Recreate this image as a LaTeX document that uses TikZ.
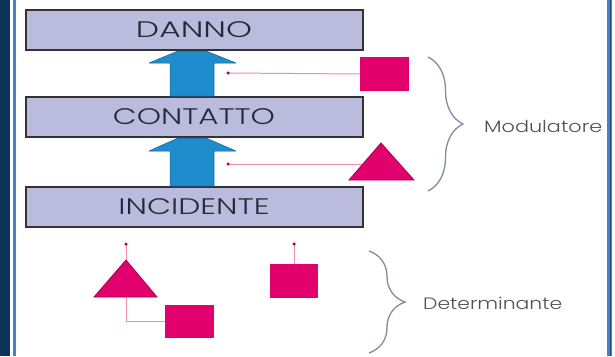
\documentclass[tikz,border=0pt]{standalone}
\usepackage{fontspec}
\usepackage{graphicx}
\setmainfont{Poppins Light}
\usetikzlibrary{decorations.pathreplacing}
\definecolor{navy}{RGB}{10,52,88}
\definecolor{frameblue}{RGB}{70,130,195}
\definecolor{boxfill}{RGB}{186,187,221}
\definecolor{boxtext}{RGB}{40,40,60}
\definecolor{arrowblue}{RGB}{30,140,205}
\definecolor{magentaf}{RGB}{226,0,108}
\definecolor{pinkline}{RGB}{240,140,172}
\definecolor{bracecol}{RGB}{130,138,165}
\definecolor{labeltext}{RGB}{80,80,85}
\newcommand{\wto}[2]{\resizebox{#1}{\height}{#2}}
\tikzset{
  layerbox/.style={draw=black!80, line width=2pt, fill=boxfill, minimum width=337pt, minimum height=40pt, inner sep=0pt, text=boxtext, font=\fontsize{22.5}{24}\selectfont},
  pinksq/.style={fill=magentaf, minimum width=49pt, minimum height=34pt, inner sep=0pt},
  pinkconn/.style={draw=pinkline, line width=1pt},
  pinkdot/.style={fill=magentaf!80!black, circle, inner sep=0pt, minimum size=3.5pt},
  blockarrow/.style={fill=arrowblue, draw=arrowblue!70!black, line width=0.5pt, line join=round},
  tri/.style={fill=magentaf, draw=magentaf!75!black, line width=0.8pt, line join=miter},
  bracestyle/.style={draw=bracecol, line width=1.3pt, decorate, decoration={brace, amplitude=35pt}},
  sidelabel/.style={anchor=west, inner sep=0pt, text=labeltext, font=\fontsize{16.5}{18}\selectfont}
}
\begin{document}
\begin{tikzpicture}[x=1pt, y=-1pt]
\useasboundingbox (0,0) rectangle (615,356);
\fill[white] (0,0) rectangle (615,356);
% frame
\fill[navy] (0,0) rectangle (9.5,356);
\fill[frameblue] (13,0) rectangle (16,356);
\fill[frameblue] (607,0) rectangle (612,356);
\fill[navy!70!frameblue] (609.5,0) rectangle (611,356);
% layers
\node[layerbox] (danno) at (194,30) {\wto{116pt}{DANNO}};
\node[layerbox] (contatto) at (194,117) {\wto{162pt}{CONTATTO}};
\node[layerbox] (incidente) at (194,207) {\wto{151pt}{INCIDENTE}};
% block arrows
\fill[blockarrow] (170,96) -- (170,63) -- (149,63) -- (178,51) -- (206,51) -- (236,63) -- (214,63) -- (214,96) -- cycle;
\fill[blockarrow] (170,186) -- (170,151) -- (149,151) -- (178,138) -- (206,138) -- (236,151) -- (214,151) -- (214,186) -- cycle;
% modulators
\coordinate (m1) at (228,73);
\coordinate (m2) at (228,164);
\node[pinksq] (sq1) at (384.5,74) {};
\draw[pinkconn] (sq1.west) -- (m1);
\node[pinkdot] at (m1) {};
\coordinate (t2l) at (349,180);
\coordinate (t2r) at (414,180);
\coordinate (t2a) at (381,143);
\coordinate (t2c) at (381,164);
\draw[pinkconn] (t2c) -- (m2);
\node[pinkdot] at (m2) {};
\filldraw[tri] (t2l) -- (t2a) -- (t2r) -- cycle;
% determinants
\coordinate (d3) at (126,244);
\coordinate (t3a) at (126,260);
\coordinate (t3l) at (94,297);
\coordinate (t3r) at (157,297);
\coordinate (t3b) at (126,297);
\node[pinksq, minimum height=33pt] (sq3) at (189.5,321.5) {};
\draw[pinkconn] (d3) -- (t3a);
\draw[pinkconn] (t3b) |- (sq3.west);
\filldraw[tri] (t3l) -- (t3a) -- (t3r) -- cycle;
\node[pinkdot] at (d3) {};
\coordinate (d4) at (294,244);
\node[pinksq, minimum width=48pt] (sq4) at (294,281) {};
\draw[pinkconn] (d4) -- (sq4.north);
\node[pinkdot] at (d4) {};
% braces
\coordinate (b1s) at (428,57);
\coordinate (b1e) at (428,191);
\draw[bracestyle] (b1s) -- (b1e);
\node[sidelabel] (modlab) at (484,126) {\wto{118pt}{Modulatore}};
\coordinate (b2s) at (369,251);
\coordinate (b2e) at (369,353);
\draw[bracestyle, decoration={brace, amplitude=36pt}] (b2s) -- (b2e);
\node[sidelabel] (detlab) at (423,303) {\wto{139pt}{Determinante}};
\end{tikzpicture}
\end{document}
